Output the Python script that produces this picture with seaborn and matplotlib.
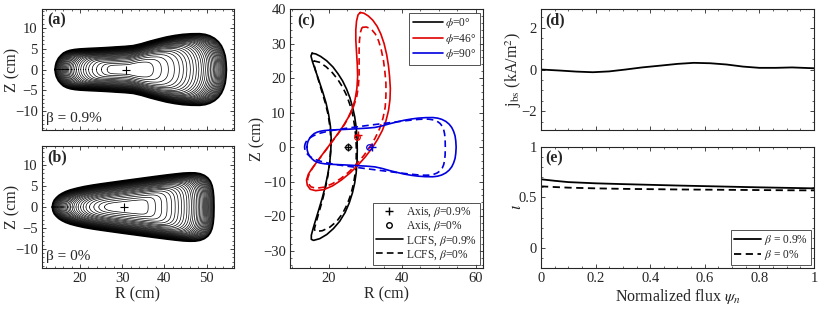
import numpy as np
import matplotlib
matplotlib.use("Agg")
import matplotlib.pyplot as plt
from matplotlib.lines import Line2D
from matplotlib.ticker import AutoMinorLocator, MultipleLocator
import seaborn as sns

# --- (a)/(b): LCFS upper halves at phi=90 (up-down symmetric), cm
lcfs09_R = [14.1, 14.2, 14.4, 14.9, 15.5, 16.1, 16.9, 17.7, 18.8, 20.0, 22.3, 24.7, 26.7,
            28.6, 30.6, 32.6, 34.5, 36.5, 38.5, 40.5, 42.5, 44.4, 46.4, 48.4, 49.7, 50.8,
            51.9, 52.8, 53.5, 54.0, 54.4, 54.6, 54.7]
lcfs09_Z = [0.0, 0.9, 1.7, 2.7, 3.4, 3.95, 4.35, 4.6, 4.8, 4.92, 5.05, 5.16, 5.27,
            5.40, 5.52, 5.71, 6.15, 6.75, 7.28, 7.78, 8.15, 8.41, 8.55, 8.57, 8.40, 8.05,
            7.45, 6.65, 5.7, 4.6, 3.3, 1.8, 0.0]
lcfs0_R = [13.45, 13.6, 13.9, 14.4, 15.0, 15.7, 16.6, 17.7, 19.2, 21.0, 23.0, 25.0, 27.5,
           30.0, 32.6, 35.2, 37.8, 40.5, 42.6, 44.5, 46.0, 47.3, 48.5, 49.5, 50.3, 50.9,
           51.3, 51.55, 51.7, 51.75]
lcfs0_Z = [0.0, 0.9, 1.6, 2.2, 2.75, 3.2, 3.65, 4.05, 4.45, 4.85, 5.2, 5.5, 5.85,
           6.2, 6.55, 6.9, 7.25, 7.6, 7.85, 8.05, 8.12, 8.1, 7.9, 7.5, 6.9, 6.1,
           5.1, 3.9, 2.3, 0.0]
axis_a = (31.0, 0.0)
axis_b = (30.4, 0.0)
# normalized minor radius of the plotted flux surfaces
surf_levels = [0.27, 0.35, 0.42, 0.48, 0.53, 0.57, 0.605, 0.64, 0.67, 0.70, 0.725, 0.75,
               0.77, 0.79, 0.81, 0.826, 0.842, 0.857, 0.871, 0.884, 0.896, 0.907, 0.918,
               0.928, 0.938, 0.947, 0.956, 0.964, 0.972, 0.979, 0.986, 0.993]

# --- (c): LCFS cross-sections, cm
phi0_sol_R = [15.5, 16.5, 17.8, 19.5, 21.2, 22.6, 23.8, 24.9, 25.8, 26.5, 27.1, 27.5,
              27.75, 27.8, 27.75, 27.5, 27.1, 26.5, 25.6, 24.5, 23.0, 21.3, 19.5, 17.6,
              15.9, 15.3, 15.3, 15.8, 16.5, 17.3, 18.2, 19.0, 19.7, 20.3, 20.6, 20.7,
              20.5, 20.0, 19.3, 18.4, 17.4, 16.4, 15.6, 15.2, 15.5]
phi0_sol_Z = [27.2, 27.0, 26.3, 25.0, 23.2, 21.2, 19.2, 16.8, 14.3, 11.7, 8.8, 5.8,
              2.5, -0.7, -4.0, -7.5, -10.4, -13.2, -16.2, -18.9, -21.5, -23.6, -25.3, -26.5,
              -27.0, -26.7, -25.5, -23.5, -21.0, -18.2, -15.0, -11.8, -8.3, -4.6, -1.0, 2.5,
              6.0, 9.5, 12.8, 16.0, 19.2, 22.3, 24.8, 26.4, 27.2]
phi0_das_R = [15.9, 17.5, 19.3, 21.0, 22.5, 23.8, 24.9, 25.8, 26.6, 27.1, 27.45, 27.55,
              27.5, 27.25, 26.8, 26.1, 25.1, 23.8, 22.2, 20.3, 18.3, 16.5, 16.1, 16.6,
              17.4, 18.3, 19.1, 19.8, 20.3, 20.55, 20.6, 20.35, 19.85, 19.1, 18.2, 17.3,
              16.5, 16.0, 15.9]
phi0_das_Z = [25.0, 24.6, 23.3, 21.6, 19.6, 17.4, 15.0, 12.3, 9.2, 6.0, 2.5, -0.7,
              -4.0, -7.5, -10.5, -13.5, -16.5, -19.2, -21.5, -23.2, -24.2, -24.4, -23.8, -21.8,
              -18.8, -15.5, -12.0, -8.3, -4.6, -1.0, 2.5, 6.0, 9.5, 12.8, 16.0, 19.2,
              22.0, 24.0, 25.0]
phi46_sol_R = [28.6, 29.6, 30.8, 32.0, 33.2, 34.2, 35.1, 35.8, 36.3, 36.6, 36.8, 36.7,
               36.3, 35.6, 34.6, 33.3, 31.8, 30.0, 28.0, 25.8, 23.5, 21.1, 18.7, 16.5,
               15.0, 14.2, 14.0, 14.5, 15.6, 17.0, 18.4, 19.8, 21.2, 22.6, 24.0, 25.3,
               26.4, 27.2, 27.7, 27.9, 27.8, 27.6, 27.4, 27.4, 27.6, 28.0, 28.6]
phi46_sol_Z = [39.0, 38.8, 38.0, 36.8, 35.0, 32.8, 30.0, 26.8, 23.5, 20.3, 17.0, 13.8,
               10.6, 7.6, 4.8, 2.2, -0.3, -2.8, -5.2, -7.5, -9.5, -11.2, -12.3, -12.6,
               -12.2, -11.0, -9.5, -7.8, -6.0, -4.0, -2.0, 0.0, 2.0, 4.0, 6.2, 8.5,
               11.0, 13.8, 17.0, 20.5, 24.0, 27.5, 31.0, 34.0, 36.5, 38.3, 39.0]
phi46_das_R = [29.1, 30.3, 31.6, 32.7, 33.6, 34.3, 34.9, 35.3, 35.6, 35.6, 35.4, 34.8,
               33.9, 32.7, 31.3, 29.6, 27.7, 25.6, 23.3, 21.0, 18.7, 16.6, 15.2, 14.4,
               14.3, 14.9, 16.0, 17.4, 18.8, 20.2, 21.6, 23.0, 24.4, 25.6, 26.7, 27.6,
               28.1, 28.3, 28.3, 28.3, 28.4, 28.7, 29.1]
phi46_das_Z = [34.7, 34.8, 34.2, 32.8, 30.8, 28.3, 25.3, 22.0, 18.5, 15.0, 11.6, 8.4,
               5.4, 2.7, 0.2, -2.4, -4.8, -7.1, -9.1, -10.6, -11.6, -11.9, -11.5, -10.4,
               -9.0, -7.3, -5.5, -3.5, -1.5, 0.5, 2.5, 4.5, 6.7, 9.0, 11.5, 14.3,
               17.5, 21.0, 24.5, 28.0, 31.0, 33.4, 34.7]
axis09_R = [25.3, 27.9, 31.8]
axis09_Z = [0.0, 3.5, 0.0]
axis0_R = [25.3, 27.7, 30.9]
axis0_Z = [0.0, 3.0, 0.0]
phi_colors = ["black", "#e00000", "#0000e0"]
phi_labels = [r"$\phi$=0°", r"$\phi$=46°", r"$\phi$=90°"]

# --- (d)/(e): profiles vs normalized flux
psi_d = [0, 0.07, 0.13, 0.19, 0.25, 0.31, 0.37, 0.44, 0.50, 0.56, 0.62, 0.68, 0.74,
         0.80, 0.86, 0.92, 1.0]
jbs = [0.0, -0.05, -0.10, -0.13, -0.09, 0.0, 0.10, 0.19, 0.27, 0.32, 0.30, 0.24, 0.14,
       0.08, 0.08, 0.10, 0.06]
psi_e = [0, 0.05, 0.1, 0.2, 0.3, 0.4, 0.5, 0.6, 0.7, 0.8, 0.9, 1.0]
iota09 = [0.68, 0.665, 0.652, 0.64, 0.632, 0.625, 0.618, 0.612, 0.606, 0.600, 0.595, 0.59]
iota0 = [0.61, 0.603, 0.597, 0.59, 0.585, 0.582, 0.579, 0.577, 0.575, 0.573, 0.571, 0.57]


def closed(R_up, Z_up):
    R = list(R_up) + list(R_up[::-1][1:])
    Z = list(Z_up) + [-z for z in Z_up[::-1][1:]]
    return np.array(R), np.array(Z)


sns.set_theme(style="ticks")
plt.rcParams["font.family"] = ["Liberation Serif", "DejaVu Serif"]
plt.rcParams["mathtext.fontset"] = "stix"
plt.rcParams["axes.edgecolor"] = "#262626"
plt.rcParams["axes.linewidth"] = 0.8
plt.rcParams["xtick.color"] = "#262626"
plt.rcParams["ytick.color"] = "#262626"
plt.rcParams["text.color"] = "#262626"

fig = plt.figure(figsize=(8.3, 3.12), dpi=100)
ax_a = fig.add_axes([0.0506, 0.5833, 0.2313, 0.3878])
ax_b = fig.add_axes([0.0506, 0.1410, 0.2313, 0.3910])
ax_c = fig.add_axes([0.3494, 0.1410, 0.2325, 0.8300])
ax_d = fig.add_axes([0.6518, 0.5833, 0.3289, 0.3878])
ax_e = fig.add_axes([0.6518, 0.1410, 0.3289, 0.3878])


def style(ax):
    ax.tick_params(direction="in", top=True, right=True, length=3, width=0.6,
                   labelsize=10.5, pad=3)
    ax.tick_params(which="minor", direction="in", top=True, right=True, length=1.6, width=0.5)
    ax.xaxis.set_minor_locator(AutoMinorLocator())
    ax.yaxis.set_minor_locator(AutoMinorLocator())


# (a), (b) nested flux surfaces
for ax, R_up, Z_up, ax0, lab, tag in [(ax_a, lcfs09_R, lcfs09_Z, axis_a, "(a)", "β = 0.9%"),
                                      (ax_b, lcfs0_R, lcfs0_Z, axis_b, "(b)", "β = 0%")]:
    Rb, Zb = closed(R_up, Z_up)
    for s in surf_levels:
        ax.plot(ax0[0] + s * (Rb - ax0[0]), Zb * s ** 1.2, color="black", lw=0.5)
    sns.lineplot(x=Rb, y=Zb, sort=False, estimator=None, color="black", lw=1.3, ax=ax)
    ax.plot(ax0[0], ax0[1], marker="+", color="black", ms=6, mew=0.8)
    ax.set_xlim(11, 56.5)
    ax.set_ylim(-14.5, 14.5)
    ax.xaxis.set_major_locator(MultipleLocator(10))
    ax.set_yticks([-10, -5, 0, 5, 10])
    ax.set_ylabel("Z (cm)", fontsize=11.5)
    ax.yaxis.set_label_coords(-0.11, 0.5)
    ax.text(0.025, 0.97, lab, transform=ax.transAxes, fontsize=11.5, fontweight="bold",
            va="top", ha="left")
    ax.text(0.02, 0.04, tag, transform=ax.transAxes, fontsize=11, va="bottom", ha="left")
    style(ax)
ax_a.set_xticklabels([])
ax_b.set_xlabel("R (cm)", fontsize=11.5, labelpad=1)

# (c) LCFS cross-sections
Rb9, Zb9 = closed(lcfs09_R, lcfs09_Z)
Rb0, Zb0 = closed(lcfs0_R, lcfs0_Z)
curves = [(phi0_sol_R, phi0_sol_Z, phi0_das_R, phi0_das_Z),
          (phi46_sol_R, phi46_sol_Z, phi46_das_R, phi46_das_Z),
          (Rb9, Zb9, Rb0, Zb0)]
for (Rs, Zs, Rd, Zd), col in zip(curves, phi_colors):
    sns.lineplot(x=Rs, y=Zs, sort=False, estimator=None, color=col, lw=1.2, ax=ax_c)
    sns.lineplot(x=Rd, y=Zd, sort=False, estimator=None, color=col, lw=1.2,
                 linestyle=(0, (4, 2.5)), ax=ax_c)
for i, col in enumerate(phi_colors):
    ax_c.plot(axis09_R[i], axis09_Z[i], marker="+", color=col, ms=6, mew=1.0, ls="none")
    ax_c.plot(axis0_R[i], axis0_Z[i], marker="o", color=col, ms=4, mfc="none", mew=0.9,
              ls="none")
ax_c.set_xlim(9.5, 62)
ax_c.set_ylim(-35, 40)
ax_c.xaxis.set_major_locator(MultipleLocator(20))
ax_c.yaxis.set_major_locator(MultipleLocator(10))
ax_c.set_xlabel("R (cm)", fontsize=11.5, labelpad=1)
ax_c.set_ylabel("Z (cm)", fontsize=11.5)
ax_c.yaxis.set_label_coords(-0.125, 0.5)
ax_c.text(0.04, 0.985, "(c)", transform=ax_c.transAxes, fontsize=11.5, fontweight="bold",
          va="top", ha="left")
style(ax_c)
h1 = [Line2D([], [], color=c, lw=1.2) for c in phi_colors]
leg1 = ax_c.legend(h1, phi_labels, loc="upper right", fontsize=8.3, frameon=True,
                   fancybox=False, edgecolor="#262626", handlelength=2.6, handletextpad=0.2,
                   borderpad=0.3, labelspacing=0.15, borderaxespad=0.3)
leg1.get_frame().set_linewidth(0.7)
ax_c.add_artist(leg1)
h2 = [Line2D([], [], color="black", marker="+", ls="none", ms=6),
      Line2D([], [], color="black", marker="o", mfc="none", ls="none", ms=4),
      Line2D([], [], color="black", lw=1.2),
      Line2D([], [], color="black", lw=1.2, ls=(0, (4, 2.5)))]
leg2 = ax_c.legend(h2, [r"Axis, $\beta$=0.9%", r"Axis, $\beta$=0%",
                        r"LCFS, $\beta$=0.9%", r"LCFS, $\beta$=0%"],
                   loc="lower right", fontsize=8.3, frameon=True, fancybox=False,
                   edgecolor="#262626", handlelength=2.4, handletextpad=0.2,
                   borderpad=0.25, labelspacing=0.05, borderaxespad=0.3)
leg2.get_frame().set_linewidth(0.7)

# (d) bootstrap current
sns.lineplot(x=psi_d, y=jbs, color="black", lw=1.3, ax=ax_d)
ax_d.set_xlim(0, 1)
ax_d.set_ylim(-2.9, 2.9)
ax_d.set_yticks([-2, 0, 2])
ax_d.set_xticks([0, 0.2, 0.4, 0.6, 0.8, 1.0])
ax_d.set_xticklabels([])
ax_d.set_ylabel(r"j$_{\rm bs}$ (kA/m$^2$)", fontsize=11.5)
ax_d.yaxis.set_label_coords(-0.062, 0.5)
ax_d.text(0.015, 0.97, "(d)", transform=ax_d.transAxes, fontsize=11.5, fontweight="bold",
          va="top", ha="left")
style(ax_d)

# (e) rotational transform
sns.lineplot(x=psi_e, y=iota09, color="black", lw=1.3, ax=ax_e, label=r"$\beta$ = 0.9%")
sns.lineplot(x=psi_e, y=iota0, color="black", lw=1.3, linestyle=(0, (4, 2.5)), ax=ax_e,
             label=r"$\beta$ = 0%")
ax_e.set_xlim(0, 1)
ax_e.set_ylim(-0.2, 1.0)
ax_e.set_yticks([0, 0.5, 1])
ax_e.set_yticklabels(["0", "0.5", "1"])
ax_e.set_xticks([0, 0.2, 0.4, 0.6, 0.8, 1.0])
ax_e.set_xticklabels(["0", "0.2", "0.4", "0.6", "0.8", "1"])
ax_e.set_xlabel(r"Normalized flux $\psi_n$", fontsize=11.5, labelpad=1)
ax_e.set_ylabel(r"$\iota$", fontsize=12)
ax_e.yaxis.set_label_coords(-0.06, 0.5)
ax_e.text(0.015, 0.97, "(e)", transform=ax_e.transAxes, fontsize=11.5, fontweight="bold",
          va="top", ha="left")
style(ax_e)
leg3 = ax_e.legend(loc="lower right", fontsize=8.3, frameon=True, fancybox=False,
                   edgecolor="#262626", handlelength=2.4, handletextpad=0.2,
                   borderpad=0.25, labelspacing=0.05, borderaxespad=0.3)
leg3.get_frame().set_linewidth(0.7)

fig.savefig("out.png", dpi=100)
